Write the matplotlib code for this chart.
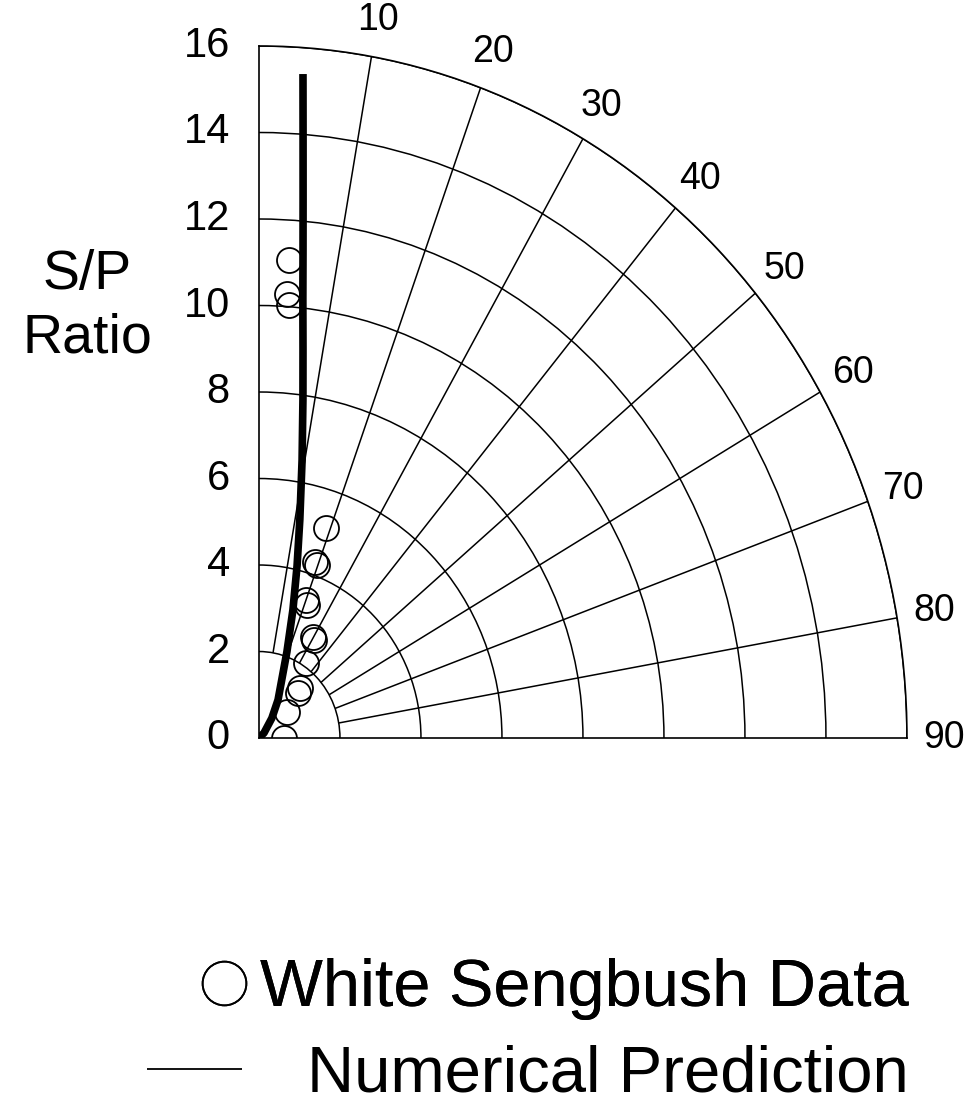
import numpy as np
import matplotlib
matplotlib.use("Agg")
import matplotlib.pyplot as plt

plt.rcParams['font.family'] = ['Liberation Sans', 'DejaVu Sans']

# White & Sengbush measurements: incidence angle (deg) and S/P amplitude ratio
ws_angle = [3.8, 3.8, 4.2, 18.8, 18.8, 19.7, 20.0, 21.0, 29.6, 31.0,
            33.7, 41.0, 42.7, 49.0, 89.0]
ws_ratio = [11.07, 10.30, 10.05, 5.13, 4.30, 4.25, 3.40, 3.30, 2.69, 2.65,
            2.09, 1.54, 1.42, 0.92, 0.62]

# numerical prediction curve
pred_angle = [50.0, 46.7, 34.7, 28.1, 19.1, 15.8, 13.3, 11.3, 9.4, 7.9,
              6.9, 6.1, 5.5, 5.0, 4.5, 4.05]
pred_ratio = [0.0, 0.17, 0.56, 1.00, 2.11, 3.08, 4.09, 5.15, 6.52, 7.90,
              9.05, 10.20, 11.35, 12.50, 13.88, 15.39]

r_ticks = [0, 2, 4, 6, 8, 10, 12, 14, 16]
theta_ticks = [10, 20, 30, 40, 50, 60, 70, 80, 90]
spoke_angles = [10, 20, 30, 40, 50, 60, 70, 80]

fig = plt.figure(figsize=(9.67, 11.03), dpi=100)
ax = fig.add_axes([0.2678, 0.3309, 0.6701, 0.6274], projection='polar')
ax.set_theta_zero_location('N')
ax.set_theta_direction(-1)
ax.set_thetamin(0)
ax.set_thetamax(90)
ax.set_rlim(0, 16)
ax.set_aspect('auto')

# radial grid: arcs every 2 units, spokes starting at r = 2
ax.set_rticks(r_ticks)
ax.set_yticklabels([str(v) for v in r_ticks])
ax.yaxis.grid(True, color='black', lw=1.1)
ax.xaxis.grid(False)
ax.vlines(np.deg2rad(spoke_angles), 2, 16, color='black', lw=1.1)

ax.set_xticks(np.deg2rad(theta_ticks))
ax.set_xticklabels([str(v) for v in theta_ticks])
ax.tick_params(axis='x', labelsize=27, pad=20, length=0)
ax.tick_params(axis='y', labelsize=30, pad=14, length=7, width=1.1,
               color='black')
for sp in ax.spines.values():
    sp.set_color('black')
    sp.set_linewidth(1.2)

pts, = ax.plot(np.deg2rad(ws_angle), ws_ratio, 'o', ms=18, mfc='none',
               mec='black', mew=1.3, zorder=3,
               label='White Sengbush Data')
line, = ax.plot(np.deg2rad(pred_angle), pred_ratio, color='black', lw=5.5,
                solid_capstyle='butt', zorder=4,
                label='Numerical Prediction')

fig.text(0.09, 0.722, 'S/P\nRatio', ha='center', va='center', fontsize=40,
         linespacing=1.3)

leg1 = fig.legend(handles=[pts], loc='center right',
                  bbox_to_anchor=(0.94, 1 - 989 / 1103), frameon=False,
                  fontsize=48, markerscale=1.75, handlelength=0.7,
                  handletextpad=0.2, borderpad=0, borderaxespad=0)
leg2 = fig.legend(handles=[line], loc='center right',
                  bbox_to_anchor=(0.94, 1 - 1075 / 1103), frameon=False,
                  fontsize=47, handlelength=1.45, handletextpad=1.0,
                  borderpad=0, borderaxespad=0)
fig.add_artist(leg1)
leg2.get_lines()[0].set_linewidth(1.3)

fig.savefig('out.png', dpi=100)
